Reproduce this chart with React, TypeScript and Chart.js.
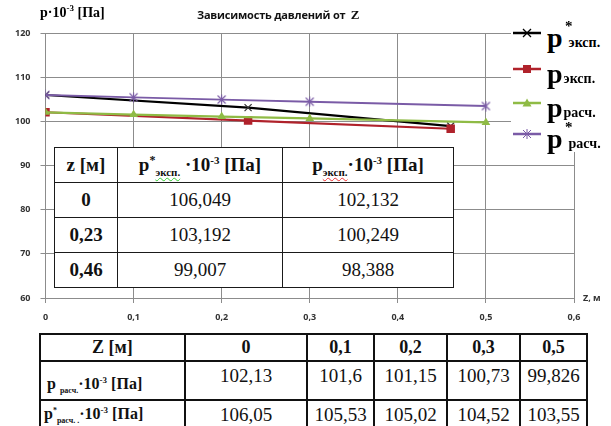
import React, { useEffect, useRef } from 'react';
import { Chart, registerables } from 'chart.js';
Chart.register(...registerables);

// ---- data ----
const zExp = [0, 0.23, 0.46];
const pStarExp = [106.049, 103.192, 99.007];
const pExp = [102.132, 100.249, 98.388];
const zCalc = [0, 0.1, 0.2, 0.3, 0.5];
const pCalc = [102.13, 101.6, 101.15, 100.73, 99.826];
const pStarCalc = [106.05, 105.53, 105.02, 104.52, 103.55];
const seriesLabels = ['p* эксп.', 'p эксп.', 'p расч.', 'p* расч.'];

const C_BLACK = '#000000';
const C_RED = '#b0222b';
const C_GREEN = '#8fbb45';
const C_PURPLE = '#7a5ba6';
const GRID = '#8c8c8c';
const SERIF = '"Liberation Serif", "Times New Roman", serif';
const SANS = '"Open Sans", "Noto Sans", sans-serif';

const fmt = (v: number) => String(v).replace('.', ',');

function starMarker(color: string) {
  const c = document.createElement('canvas');
  c.width = 11;
  c.height = 11;
  const ctx = c.getContext('2d')!;
  ctx.strokeStyle = color;
  ctx.lineWidth = 1.1;
  ctx.beginPath();
  ctx.moveTo(1.5, 1.5); ctx.lineTo(9.5, 9.5);
  ctx.moveTo(9.5, 1.5); ctx.lineTo(1.5, 9.5);
  ctx.moveTo(5.5, 0.5); ctx.lineTo(5.5, 10.5);
  ctx.stroke();
  return c;
}

const Sup = ({ children, size = 10 }: any) => (
  <span style={{ fontSize: size, verticalAlign: 'super', lineHeight: 0 }}>{children}</span>
);
const Sub = ({ children, size = 10, deco }: any) => (
  <span style={{ fontSize: size, verticalAlign: 'sub', lineHeight: 0, textDecoration: deco ? `underline wavy ${deco}` : undefined, textDecorationThickness: '1px' }}>{children}</span>
);

function LegendIcon({ kind, color, top }: { kind: string; color: string; top: number }) {
  let marker: any = null;
  if (kind === 'x') marker = <path d="M10 2 L18 10 M18 2 L10 10" stroke={color} strokeWidth={1.3} fill="none" />;
  if (kind === 'sq') marker = <rect x={10} y={2} width={8} height={8} fill={color} />;
  if (kind === 'tri') marker = <path d="M14 1.5 L18.5 9.5 L9.5 9.5 Z" fill={color} />;
  if (kind === 'star') marker = <path d="M10 2 L18 10 M18 2 L10 10 M14 1 L14 11" stroke={color} strokeWidth={1} fill="none" />;
  return (
    <svg width={28} height={12} style={{ position: 'absolute', left: 513, top: top - 6 }}>
      <line x1={0} y1={6} x2={28} y2={6} stroke={color} strokeWidth={2.5} />
      {marker}
    </svg>
  );
}

function LegendText({ top, star, sub }: { top: number; star: boolean; sub: string }) {
  return (
    <div style={{ position: 'absolute', left: 547, top: top - 9.5, fontFamily: SERIF, fontWeight: 'bold', fontSize: 28, lineHeight: '28px', whiteSpace: 'nowrap', color: '#000' }}>
      p
      {star && <span style={{ position: 'absolute', left: 18, top: -5, fontSize: 15, lineHeight: '15px' }}>*</span>}
      <span style={{ fontSize: 14, marginLeft: star ? 6 : 1 }}>{sub}</span>
    </div>
  );
}

export default function App() {
  const ref = useRef<HTMLCanvasElement>(null);
  useEffect(() => {
    const ctx = ref.current!;
    const chart = new Chart(ctx, {
      type: 'line',
      data: {
        datasets: [
          {
            label: seriesLabels[0],
            data: zExp.map((x, i) => ({ x, y: pStarExp[i] })),
            borderColor: C_BLACK, borderWidth: 2.2, pointStyle: 'crossRot', pointRadius: 5,
            pointBorderColor: '#333', pointBorderWidth: 1.2, tension: 0, order: 4,
          },
          {
            label: seriesLabels[1],
            data: zExp.map((x, i) => ({ x, y: pExp[i] })),
            borderColor: C_RED, borderWidth: 2.2, pointStyle: 'rect', pointRadius: 6,
            pointBackgroundColor: C_RED, pointBorderColor: C_RED, pointBorderWidth: 0, tension: 0, order: 3,
          },
          {
            label: seriesLabels[2],
            data: zCalc.map((x, i) => ({ x, y: pCalc[i] })),
            borderColor: C_GREEN, borderWidth: 2.2, pointStyle: 'triangle', pointRadius: 5,
            pointBackgroundColor: C_GREEN, pointBorderColor: C_GREEN, pointBorderWidth: 0, tension: 0, order: 2,
          },
          {
            label: seriesLabels[3],
            data: zCalc.map((x, i) => ({ x, y: pStarCalc[i] })),
            borderColor: C_PURPLE, borderWidth: 1.8, pointStyle: starMarker(C_PURPLE) as any, pointRadius: 5,
            tension: 0, order: 1,
          },
        ],
      },
      options: {
        responsive: false,
        animation: false,
        layout: { padding: { left: 0, top: 33.5, right: 37, bottom: 0 } },
        plugins: { legend: { display: false }, title: { display: false }, tooltip: { enabled: false } },
        scales: {
          x: {
            type: 'linear', min: 0, max: 0.6,
            ticks: {
              stepSize: 0.1, padding: 9, color: '#333',
              font: { family: SANS, size: 9, weight: 'bold' },
              callback: (v: any) => (Number(v) === 0 ? '0' : Number(v).toFixed(1).replace('.', ',')),
            },
            grid: { color: GRID, lineWidth: 1, tickLength: 5 },
            border: { color: GRID, width: 1 },
            afterFit: (s: any) => { s.height = 128; },
          },
          y: {
            min: 60, max: 120,
            ticks: { stepSize: 10, padding: 10, color: '#333', font: { family: SANS, size: 9, weight: 'bold' } },
            grid: { color: GRID, lineWidth: 1, tickLength: 5 },
            border: { color: GRID, width: 1 },
            afterFit: (s: any) => { s.width = 45.5; },
          },
        },
      },
    } as any);
    return () => chart.destroy();
  }, []);

  const innerCell: any = { border: '1.5px solid #1a1a1a', textAlign: 'center', verticalAlign: 'middle', padding: 0, fontFamily: SERIF };
  const botCell: any = { border: '2px solid #111', textAlign: 'center', verticalAlign: 'middle', padding: 0, fontFamily: SERIF };

  return (
    <div style={{ position: 'fixed', left: 0, top: 0, width: 611, height: 426, overflow: 'hidden', background: '#fff' }}>
      <canvas ref={ref} width={611} height={426} style={{ position: 'absolute', left: 0, top: 0 }} />

      {/* title */}
      <div style={{ position: 'absolute', left: 197, top: 7, fontFamily: SANS, fontWeight: 'bold', fontSize: 11, whiteSpace: 'nowrap', color: '#111', letterSpacing: -0.2 }}>
        Зависимость давлений от&nbsp;&nbsp;<span style={{ fontFamily: SERIF, fontSize: 13 }}>Z</span>
      </div>
      {/* y axis title */}
      <div style={{ position: 'absolute', left: 40, top: 5, fontFamily: SERIF, fontWeight: 'bold', fontSize: 14, whiteSpace: 'nowrap', color: '#000' }}>
        p·10<Sup size={9}>-3</Sup> [Па]
      </div>
      {/* x axis title */}
      <div style={{ position: 'absolute', left: 583, top: 291, fontFamily: SANS, fontWeight: 'bold', fontSize: 9, whiteSpace: 'nowrap', color: '#333' }}>
        Z, м
      </div>

      {/* legend */}
      <div style={{ position: 'absolute', left: 511, top: 22, width: 100, height: 130, background: '#fff' }} />
      <LegendIcon kind="x" color={C_BLACK} top={33} />
      <LegendText top={33} star sub="эксп." />
      <LegendIcon kind="sq" color={C_RED} top={69} />
      <LegendText top={69} star={false} sub="эксп." />
      <LegendIcon kind="tri" color={C_GREEN} top={103} />
      <LegendText top={103} star={false} sub="расч." />
      <LegendIcon kind="star" color={C_PURPLE} top={134} />
      <LegendText top={134} star sub="расч." />

      {/* inner table */}
      <table style={{ position: 'absolute', left: 54, top: 147, width: 399, height: 139, borderCollapse: 'collapse', tableLayout: 'fixed', background: '#fff', fontFamily: SERIF, color: '#111' }}>
        <colgroup><col style={{ width: 63 }} /><col style={{ width: 165 }} /><col style={{ width: 171 }} /></colgroup>
        <tbody>
          <tr style={{ height: 35 }}>
            <td style={{ ...innerCell, fontWeight: 'bold', fontSize: 19 }}>z [м]</td>
            <td style={{ ...innerCell, fontWeight: 'bold', fontSize: 19, whiteSpace: 'nowrap' }}>
              p<span style={{ fontSize: 12, verticalAlign: 'super', lineHeight: 0 }}>*</span><Sub size={11} deco="#3c3">эксп.</Sub>&nbsp;·10<Sup size={11}>-3</Sup>&nbsp;[Па]
            </td>
            <td style={{ ...innerCell, fontWeight: 'bold', fontSize: 19, whiteSpace: 'nowrap' }}>
              p<Sub size={11} deco="#e33">эксп.</Sub>·10<Sup size={11}>-3</Sup>&nbsp;[Па]
            </td>
          </tr>
          {zExp.map((z, i) => (
            <tr key={i} style={{ height: 35 }}>
              <td style={{ ...innerCell, fontWeight: 'bold', fontSize: 19 }}>{fmt(z)}</td>
              <td style={{ ...innerCell, fontSize: 19 }}>{fmt(pStarExp[i])}</td>
              <td style={{ ...innerCell, fontSize: 19 }}>{fmt(pExp[i])}</td>
            </tr>
          ))}
        </tbody>
      </table>

      {/* bottom table */}
      <table style={{ position: 'absolute', left: 39, top: 333, width: 547, borderCollapse: 'collapse', tableLayout: 'fixed', background: '#fff', fontFamily: SERIF, color: '#111' }}>
        <colgroup>
          <col style={{ width: 145 }} /><col style={{ width: 122 }} /><col style={{ width: 67 }} />
          <col style={{ width: 73 }} /><col style={{ width: 73 }} /><col style={{ width: 67 }} />
        </colgroup>
        <tbody>
          <tr style={{ height: 27 }}>
            <td style={{ ...botCell, fontWeight: 'bold', fontSize: 18 }}>Z [м]</td>
            {zCalc.map((z, i) => (
              <td key={i} style={{ ...botCell, fontWeight: 'bold', fontSize: 18 }}>{fmt(z)}</td>
            ))}
          </tr>
          <tr style={{ height: 39 }}>
            <td style={{ ...botCell, textAlign: 'left', paddingLeft: 6, paddingTop: 6, fontWeight: 'bold', fontSize: 16, whiteSpace: 'nowrap' }}>
              p <Sub size={8}>расч.</Sub>·10<Sup size={9}>-3</Sup> [Па]
            </td>
            {pCalc.map((v, i) => (
              <td key={i} style={{ ...botCell, fontSize: 19, verticalAlign: 'top', paddingTop: 3 }}>{fmt(v)}</td>
            ))}
          </tr>
          <tr style={{ height: 36 }}>
            <td style={{ ...botCell, textAlign: 'left', paddingLeft: 3, verticalAlign: 'top', paddingTop: 4, fontWeight: 'bold', fontSize: 16, whiteSpace: 'nowrap' }}>
              p<Sup size={8}>*</Sup><Sub size={8}>расч. .</Sub>·10<Sup size={9}>-3</Sup> [Па]
            </td>
            {pStarCalc.map((v, i) => (
              <td key={i} style={{ ...botCell, fontSize: 19, verticalAlign: 'top', paddingTop: 3 }}>{fmt(v)}</td>
            ))}
          </tr>
        </tbody>
      </table>
    </div>
  );
}
